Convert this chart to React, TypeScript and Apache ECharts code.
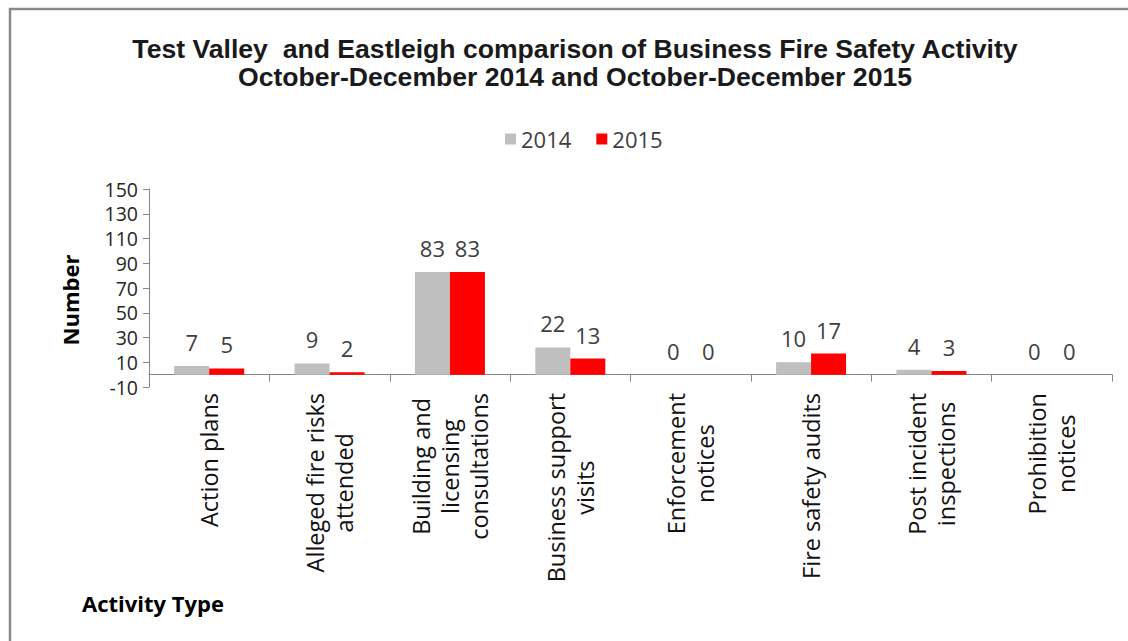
import React, { useEffect, useRef } from "react";
import * as echarts from "echarts";

const categories = [
  "Action plans",
  "Alleged fire risks\nattended",
  "Building and\nlicensing\nconsultations",
  "Business support\nvisits",
  "Enforcement\nnotices",
  "Fire safety audits",
  "Post incident\ninspections",
  "Prohibition\nnotices",
];
const values2014 = [7, 9, 83, 22, 0, 10, 4, 0];
const values2015 = [5, 2, 83, 13, 0, 17, 3, 0];
const yTicks = [-10, 10, 30, 50, 70, 90, 110, 130, 150];
const titleLines = [
  "Test Valley  and Eastleigh comparison of Business Fire Safety Activity",
  "October-December 2014 and October-December 2015",
];

const SANS = "'Open Sans', sans-serif";
const ARIAL = "'Liberation Sans', Arial, sans-serif";

export default function App() {
  const ref = useRef<HTMLDivElement>(null);
  useEffect(() => {
    if (!ref.current) return;
    const chart = echarts.init(ref.current, null, { renderer: "svg" });
    const label = {
      show: true,
      position: "top",
      distance: 13,
      fontFamily: SANS,
      fontSize: 22,
      color: "#404040",
    };
    chart.setOption({
      animation: false,
      backgroundColor: "#ffffff",
      grid: { left: 149, right: 16, top: 189, bottom: 254, containLabel: false },
      legend: {
        left: 500,
        top: 123,
        itemWidth: 11,
        itemHeight: 11,
        itemGap: 25,
        icon: "rect",
        textStyle: { fontFamily: SANS, fontSize: 22, color: "#404040" },
        data: ["2014", "2015"],
      },
      xAxis: {
        type: "category",
        data: categories,
        axisLine: { onZero: true, lineStyle: { color: "#868686", width: 1 } },
        axisTick: { show: true, length: 7, interval: 0, lineStyle: { color: "#868686" } },
        axisLabel: {
          interval: 0,
          rotate: 90,
          margin: 6,
          formatter: (v: string) => v.split("\n").map((l) => `{c|${l}}`).join("\n"),
          rich: {
            c: { align: "center", fontFamily: SANS, fontSize: 23.5, lineHeight: 29, color: "#111111" },
          },
        },
        splitLine: { show: false },
      },
      yAxis: {
        type: "value",
        min: -10,
        max: 150,
        axisLine: { show: true, lineStyle: { color: "#868686", width: 1 } },
        axisTick: { show: true, length: 6, customValues: yTicks, lineStyle: { color: "#868686" } },
        axisLabel: {
          customValues: yTicks,
          margin: 11,
          fontFamily: SANS,
          fontSize: 19.5,
          lineHeight: 20,
          color: "#262626",
        },
        splitLine: { show: false },
      },
      series: [
        {
          name: "2014",
          type: "bar",
          data: values2014,
          barWidth: 35,
          barGap: "0%",
          itemStyle: { color: "#BFBFBF" },
          label,
        },
        {
          name: "2015",
          type: "bar",
          data: values2015,
          barWidth: 35,
          barGap: "0%",
          itemStyle: { color: "#FF0000" },
          label,
        },
      ],
      graphic: [
        {
          type: "rect",
          shape: { x: 10, y: 9, width: 1200, height: 700 },
          style: { fill: "none", stroke: "#8a8a8a", lineWidth: 2.5 },
          silent: true,
        },
        {
          type: "text",
          x: 575,
          y: 49,
          style: {
            text: titleLines[0],
            font: `bold 26.6px ${ARIAL}`,
            fill: "#1a1a1a",
            textAlign: "center",
            textVerticalAlign: "middle",
          },
        },
        {
          type: "text",
          x: 575,
          y: 77,
          style: {
            text: titleLines[1],
            font: `bold 26.6px ${ARIAL}`,
            fill: "#1a1a1a",
            textAlign: "center",
            textVerticalAlign: "middle",
          },
        },
        {
          type: "text",
          x: 70,
          y: 300,
          rotation: Math.PI / 2,
          style: {
            text: "Number",
            font: `bold 22px ${SANS}`,
            fill: "#000000",
            textAlign: "center",
            textVerticalAlign: "middle",
          },
        },
        {
          type: "text",
          x: 82,
          y: 603,
          style: {
            text: "Activity Type",
            font: `bold 22px ${SANS}`,
            fill: "#000000",
            textAlign: "left",
            textVerticalAlign: "middle",
          },
        },
      ],
    });
    return () => chart.dispose();
  }, []);
  return (
    <div
      ref={ref}
      style={{ position: "fixed", left: 0, top: 0, width: 1128, height: 641, background: "#fff" }}
    />
  );
}
